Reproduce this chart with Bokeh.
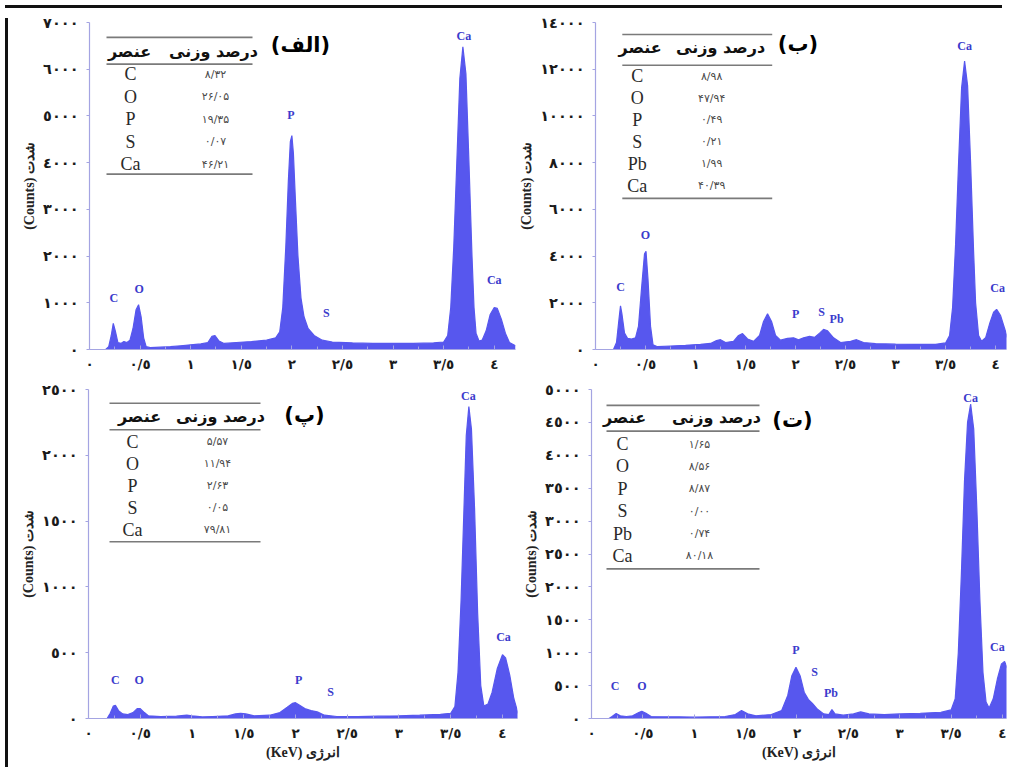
import numpy as np
from bokeh.plotting import figure
from bokeh.models import Range1d, FixedTicker, Label, ColumnDataSource, Div
from bokeh.layouts import row, column
from bokeh.embed import file_html
from bokeh.resources import INLINE
from bokeh.core.properties import value

# ---------------- data ----------------
x_ticks = [0, 0.5, 1, 1.5, 2, 2.5, 3, 3.5, 4]
x_tick_labels = ["٠", "٠/٥", "١", "١/٥", "٢", "٢/٥", "٣", "٣/٥", "٤"]

a_y_ticks = [0, 1000, 2000, 3000, 4000, 5000, 6000, 7000]
a_y_tick_labels = ["٠", "١٠٠٠", "٢٠٠٠", "٣٠٠٠", "٤٠٠٠", "٥٠٠٠", "٦٠٠٠", "٧٠٠٠"]
b_y_ticks = [0, 2000, 4000, 6000, 8000, 10000, 12000, 14000]
b_y_tick_labels = ["٠", "٢٠٠٠", "٤٠٠٠", "٦٠٠٠", "٨٠٠٠", "١٠٠٠٠", "١٢٠٠٠", "١٤٠٠٠"]
c_y_ticks = [0, 500, 1000, 1500, 2000, 2500]
c_y_tick_labels = ["٠", "٥٠٠", "١٠٠٠", "١٥٠٠", "٢٠٠٠", "٢٥٠٠"]
d_y_ticks = [0, 500, 1000, 1500, 2000, 2500, 3000, 3500, 4000, 4500, 5000]
d_y_tick_labels = ["٠", "٥٠٠", "١٠٠٠", "١٥٠٠", "٢٠٠٠", "٢٥٠٠", "٣٠٠٠", "٣٥٠٠", "٤٠٠٠", "٤٥٠٠", "٥٠٠٠"]

a_kev = [0.16, 0.19, 0.215, 0.235, 0.255, 0.28, 0.31, 0.34, 0.37, 0.40, 0.43, 0.46, 0.485, 0.51,
         0.535, 0.56, 0.60, 0.70, 0.80, 0.90, 1.00, 1.10, 1.17, 1.21, 1.24, 1.28, 1.33, 1.45, 1.60,
         1.75, 1.84, 1.88, 1.91, 1.94, 1.965, 1.985, 2.00, 2.015, 2.035, 2.06, 2.09, 2.12, 2.16,
         2.22, 2.30, 2.40, 2.60, 2.80, 3.00, 3.20, 3.40, 3.50, 3.54, 3.57, 3.60, 3.63, 3.66, 3.69,
         3.72, 3.75, 3.78, 3.80, 3.82, 3.85, 3.88, 3.92, 3.96, 4.00, 4.03, 4.07, 4.11, 4.15, 4.21]
a_counts = [0, 60, 300, 560, 400, 150, 130, 170, 150, 200, 450, 850, 960, 700,
            250, 60, 40, 50, 60, 80, 100, 120, 150, 280, 300, 180, 130, 150, 170,
            200, 250, 380, 900, 2200, 3600, 4450, 4580, 4200, 3200, 2000, 1100, 700, 450,
            300, 200, 160, 140, 130, 130, 130, 140, 160, 300, 900, 2200, 4000, 5800, 6480,
            5900, 4000, 2000, 900, 350, 180, 200, 400, 750, 900, 880, 650, 350, 150, 80]

b_kev = [0.18, 0.21, 0.235, 0.25, 0.265, 0.29, 0.32, 0.36, 0.40, 0.43, 0.46, 0.49, 0.505, 0.525,
         0.55, 0.575, 0.62, 0.75, 0.90, 1.05, 1.15, 1.21, 1.25, 1.30, 1.38, 1.43, 1.47, 1.52, 1.58,
         1.64, 1.68, 1.72, 1.76, 1.80, 1.85, 1.92, 1.98, 2.03, 2.08, 2.14, 2.19, 2.24, 2.28, 2.32,
         2.38, 2.45, 2.55, 2.61, 2.68, 2.80, 3.00, 3.20, 3.40, 3.50, 3.54, 3.57, 3.60, 3.63, 3.66,
         3.69, 3.72, 3.75, 3.78, 3.80, 3.83, 3.86, 3.90, 3.94, 3.98, 4.01, 4.05, 4.09, 4.13]
b_counts = [0, 300, 1300, 1870, 1500, 700, 480, 450, 500, 1000, 2600, 4100, 4200, 3000,
            1000, 200, 120, 150, 180, 220, 260, 380, 420, 300, 350, 600, 680, 450, 350,
            600, 1200, 1530, 1200, 600, 400, 480, 500, 420, 500, 560, 520, 700, 860, 800,
            500, 300, 350, 420, 300, 250, 230, 220, 220, 280, 600, 1800, 4500, 8000, 11200,
            12350, 11300, 8000, 4200, 2000, 600, 350, 500, 1100, 1600, 1720, 1450, 900, 350]

c_kev = [0.18, 0.21, 0.24, 0.26, 0.29, 0.33, 0.38, 0.43, 0.47, 0.50, 0.54, 0.58, 0.70, 0.85,
         0.95, 1.00, 1.10, 1.20, 1.35, 1.42, 1.47, 1.52, 1.60, 1.75, 1.85, 1.92, 1.97, 2.00,
         2.04, 2.09, 2.15, 2.21, 2.28, 2.40, 2.60, 2.80, 3.00, 3.20, 3.40, 3.50, 3.54, 3.57,
         3.60, 3.63, 3.65, 3.675, 3.70, 3.73, 3.76, 3.79, 3.82, 3.86, 3.90, 3.95, 4.00, 4.03,
         4.07, 4.11, 4.15]
c_counts = [0, 40, 95, 100, 60, 35, 30, 45, 75, 75, 45, 20, 15, 18,
            25, 20, 12, 15, 20, 35, 40, 35, 20, 25, 45, 85, 115, 120,
            100, 75, 60, 50, 25, 15, 15, 18, 20, 25, 32, 40, 90, 350,
            900, 1650, 2150, 2370, 2200, 1600, 800, 250, 95, 110, 200, 380, 485, 460,
            330, 150, 40]

d_kev = [0.17, 0.20, 0.24, 0.28, 0.34, 0.40, 0.46, 0.49, 0.53, 0.58, 0.70, 0.85, 1.00, 1.15,
         1.30, 1.40, 1.46, 1.52, 1.60, 1.75, 1.85, 1.91, 1.95, 1.99, 2.03, 2.07, 2.11, 2.15,
         2.20, 2.26, 2.31, 2.34, 2.37, 2.45, 2.55, 2.62, 2.70, 2.85, 3.00, 3.20, 3.40, 3.50,
         3.54, 3.57, 3.60, 3.63, 3.66, 3.69, 3.72, 3.75, 3.78, 3.81, 3.84, 3.87, 3.91, 3.95,
         3.99, 4.02, 4.06]
d_counts = [0, 30, 75, 40, 30, 40, 90, 110, 80, 30, 25, 25, 20, 25,
            30, 60, 120, 70, 40, 60, 120, 350, 650, 780, 650, 400, 290, 230,
            140, 70, 60, 135, 70, 50, 70, 100, 70, 60, 70, 80, 95, 130,
            300, 1000, 2200, 3600, 4500, 4780, 4400, 3200, 1800, 700, 250, 160, 300, 600,
            830, 865, 720]

# peak labels
a_peak_names = ["C", "O", "P", "S", "Ca", "Ca"]
a_peak_kev = [0.24, 0.49, 1.99, 2.34, 3.70, 4.00]
a_peak_counts = [1100, 1290, 5010, 780, 6720, 1480]
b_peak_names = ["C", "O", "P", "S", "Pb", "Ca", "Ca"]
b_peak_kev = [0.25, 0.50, 2.00, 2.26, 2.41, 3.69, 4.02]
b_peak_counts = [2680, 4890, 1530, 1620, 1320, 12980, 2640]
c_peak_names = ["C", "O", "P", "S", "Ca", "Ca"]
c_peak_kev = [0.26, 0.49, 2.03, 2.34, 3.67, 4.01]
c_peak_counts = [290, 290, 290, 200, 2450, 620]
d_peak_names = ["C", "O", "P", "S", "Pb", "Ca", "Ca"]
d_peak_kev = [0.23, 0.49, 1.99, 2.17, 2.33, 3.69, 3.95]
d_peak_counts = [490, 490, 1040, 700, 390, 4870, 1090]

# tables (element, weight percent)
table_header_element = "عنصر"
table_header_percent = "درصد وزنی"
a_table_elements = ["C", "O", "P", "S", "Ca"]
a_table_values = ["۸/۳۲", "۲۶/۰۵", "۱۹/۳۵", "۰/۰۷", "۴۶/۲۱"]
b_table_elements = ["C", "O", "P", "S", "Pb", "Ca"]
b_table_values = ["۸/۹۸", "۴۷/۹۴", "۰/۴۹", "۰/۲۱", "۱/۹۹", "۴۰/۳۹"]
c_table_elements = ["C", "O", "P", "S", "Ca"]
c_table_values = ["۵/۵۷", "۱۱/۹۴", "۲/۶۳", "۰/۰۵", "۷۹/۸۱"]
d_table_elements = ["C", "O", "P", "S", "Pb", "Ca"]
d_table_values = ["۱/۶۵", "۸/۵۶", "۸/۸۷", "۰/۰۰", "۰/۷۴", "۸۰/۱۸"]

panel_titles = ["(الف)", "(ب)", "(پ)", "(ت)"]
y_title = "(Counts) شدت"
x_title = "(KeV) انرژی"

# ---------------- styles ----------------
FILL = "#5757ee"
AXIS = "#a4a4e2"
LBL = "#3b3bcc"
PERS = "DejaVu Sans"
SERIF = "Liberation Serif"
EDGE = 3  # black frame strip at the top and left

# page-pixel layout of each panel (x0, y0 = top-left of the figure on the page)
panels = [
    dict(x0=8 + EDGE, y0=8 + EDGE, w=506 - EDGE, h=364 - EDGE, bl=79 - EDGE, br=1, bt=11 - EDGE,
         bb=23, xr=(0, 4.21), yr=(0, 7000), xlabel=False,
         kev=a_kev, counts=a_counts, yt=a_y_ticks, ytl=a_y_tick_labels,
         pn=a_peak_names, pk=a_peak_kev, pc=a_peak_counts,
         te=a_table_elements, tv=a_table_values,
         tab=dict(x1=104, x2=250, top=34, head=48, rule=61, row0=71, step=22.75, bottom=172,
                  ex=128, vx=213, hex=127, hvx=211),
         title=(298, 42)),
    dict(x0=514, y0=8 + EDGE, w=491, h=364 - EDGE, bl=76, br=1, bt=12 - EDGE, bb=23,
         xr=(0, 4.109), yr=(0, 14000), xlabel=False,
         kev=b_kev, counts=b_counts, yt=b_y_ticks, ytl=b_y_tick_labels,
         pn=b_peak_names, pk=b_peak_kev, pc=b_peak_counts,
         te=b_table_elements, tv=b_table_values,
         tab=dict(x1=617, x2=768, top=32, head=45, rule=63, row0=74, step=22, bottom=197,
                  ex=632, vx=707, hex=635, hvx=716),
         title=(794, 42)),
    dict(x0=8 + EDGE, y0=372, w=508 - EDGE, h=388, bl=78 - EDGE, br=1, bt=12, bb=41,
         xr=(0, 4.145), yr=(0, 2500), xlabel=True,
         kev=c_kev, counts=c_counts, yt=c_y_ticks, ytl=c_y_tick_labels,
         pn=c_peak_names, pk=c_peak_kev, pc=c_peak_counts,
         te=c_table_elements, tv=c_table_values,
         tab=dict(x1=107, x2=258, top=398, head=412, rule=425, row0=437, step=22.5, bottom=539,
                  ex=130, vx=215, hex=137, hvx=218),
         title=(302, 410)),
    dict(x0=516, y0=372, w=489, h=388, bl=73, br=1, bt=15, bb=41, xr=(0, 4.039), yr=(0, 5000),
         xlabel=True,
         kev=d_kev, counts=d_counts, yt=d_y_ticks, ytl=d_y_tick_labels,
         pn=d_peak_names, pk=d_peak_kev, pc=d_peak_counts,
         te=d_table_elements, tv=d_table_values,
         tab=dict(x1=604, x2=757, top=403, head=415, rule=429, row0=442, step=22.6, bottom=568,
                  ex=620, vx=697, hex=622, hvx=714),
         title=(790, 418)),
]


def make_panel(cfg, title_text):
    fl = cfg["x0"] + cfg["bl"]
    ft = cfg["y0"] + cfg["bt"]
    fw = cfg["w"] - cfg["bl"] - cfg["br"]
    fh = cfg["h"] - cfg["bt"] - cfg["bb"]
    xa, xb = cfg["xr"]
    ya, yb = cfg["yr"]

    def dx(px):
        return xa + (px - fl) / fw * (xb - xa)

    def dy(py):
        return ya + (ft + fh - py) / fh * (yb - ya)

    p = figure(width=cfg["w"], height=cfg["h"], output_backend="svg", toolbar_location=None,
               x_range=Range1d(xa, xb), y_range=Range1d(ya, yb),
               min_border_left=cfg["bl"], min_border_right=cfg["br"],
               min_border_top=cfg["bt"], min_border_bottom=cfg["bb"])
    p.outline_line_color = None
    p.grid.visible = False
    p.background_fill_color = "white"
    p.border_fill_color = "white"

    src = ColumnDataSource(dict(kev=cfg["kev"], counts=cfg["counts"]))
    p.varea(x="kev", y1=0, y2="counts", source=src, fill_color=FILL, fill_alpha=1.0)
    p.line(x="kev", y="counts", source=src, line_color=FILL, line_width=1.2)

    # axes
    minor = [t + 0.25 for t in x_ticks]
    p.xaxis.ticker = FixedTicker(ticks=x_ticks, minor_ticks=minor)
    p.xaxis.major_label_overrides = {t: l for t, l in zip(x_ticks, x_tick_labels)}
    p.yaxis.ticker = FixedTicker(ticks=cfg["yt"], minor_ticks=[])
    p.yaxis.major_label_overrides = {t: l for t, l in zip(cfg["yt"], cfg["ytl"])}
    for ax in (p.xaxis, p.yaxis):
        ax.axis_line_color = AXIS
        ax.axis_line_width = 1.2
        ax.major_tick_line_color = AXIS
        ax.minor_tick_line_color = AXIS
        ax.major_label_text_font = PERS
        ax.major_label_text_font_style = "bold"
        ax.major_label_text_color = "#1a1a1a"
        ax.axis_label_text_font = SERIF
        ax.axis_label_text_font_style = "bold"
        ax.axis_label_text_font_size = "14px"
        ax.axis_label_text_color = "#222222"
    p.xaxis.major_label_text_font_size = "13.5px"
    p.yaxis.major_label_text_font_size = "14.5px"
    p.xaxis.major_tick_in = 4
    p.xaxis.major_tick_out = 0
    p.xaxis.minor_tick_in = 3
    p.xaxis.minor_tick_out = 0
    p.xaxis.major_label_standoff = 6
    p.yaxis.major_tick_in = 0
    p.yaxis.major_tick_out = 3
    p.yaxis.minor_tick_in = 0
    p.yaxis.minor_tick_out = 0
    p.yaxis.major_label_standoff = 8
    p.yaxis.axis_label = y_title
    p.yaxis.axis_label_standoff = 3
    if cfg["xlabel"]:
        p.xaxis.axis_label = x_title
        p.xaxis.axis_label_standoff = 1

    # peak labels
    lsrc = ColumnDataSource(dict(x=cfg["pk"], y=cfg["pc"], t=cfg["pn"]))
    p.text(x="x", y="y", text="t", source=lsrc, text_align="center", text_baseline="middle",
           text_font=value(SERIF), text_font_style="bold", text_font_size="12px", text_color=LBL)

    # table
    tb = cfg["tab"]
    rules_y = [tb["top"], tb["rule"], tb["bottom"]]
    p.segment(x0=[dx(tb["x1"])] * 3, x1=[dx(tb["x2"])] * 3,
              y0=[dy(v) for v in rules_y], y1=[dy(v) for v in rules_y],
              line_color="#7a7a7a", line_width=1.6)
    p.text(x=[dx(tb["hex"]), dx(tb["hvx"])], y=[dy(tb["head"])] * 2,
           text=[table_header_element, table_header_percent],
           text_align="center", text_baseline="middle", text_font=value(PERS),
           text_font_style="bold", text_font_size="16px", text_color="#111111")
    n = len(cfg["te"])
    ys = [dy(tb["row0"] + i * tb["step"]) for i in range(n)]
    p.text(x=[dx(tb["ex"])] * n, y=ys, text=cfg["te"], text_align="center",
           text_baseline="middle", text_font=value(SERIF), text_font_size="18px",
           text_color="#2a2a2a")
    p.text(x=[dx(tb["vx"])] * n, y=ys, text=cfg["tv"], text_align="center",
           text_baseline="middle", text_font=value(PERS), text_font_size="11px",
           text_color="#4a4a4a")

    # panel title
    tx, ty = cfg["title"]
    p.add_layout(Label(x=dx(tx), y=dy(ty), text=title_text, text_align="center",
                       text_baseline="middle", text_font=PERS, text_font_style="bold",
                       text_font_size="21px", text_color="black"))
    return p


figs = [make_panel(c, t) for c, t in zip(panels, panel_titles)]
top_strip = Div(text="", width=997, height=EDGE, styles={"background-color": "#111111"})
left_strip = Div(text="", width=EDGE, height=752 - EDGE, styles={"background-color": "#111111"})
layout = column(top_strip,
                row(left_strip, column(row(figs[0], figs[1]), row(figs[2], figs[3]))))

open("out.html", "w").write(file_html(layout, INLINE))
